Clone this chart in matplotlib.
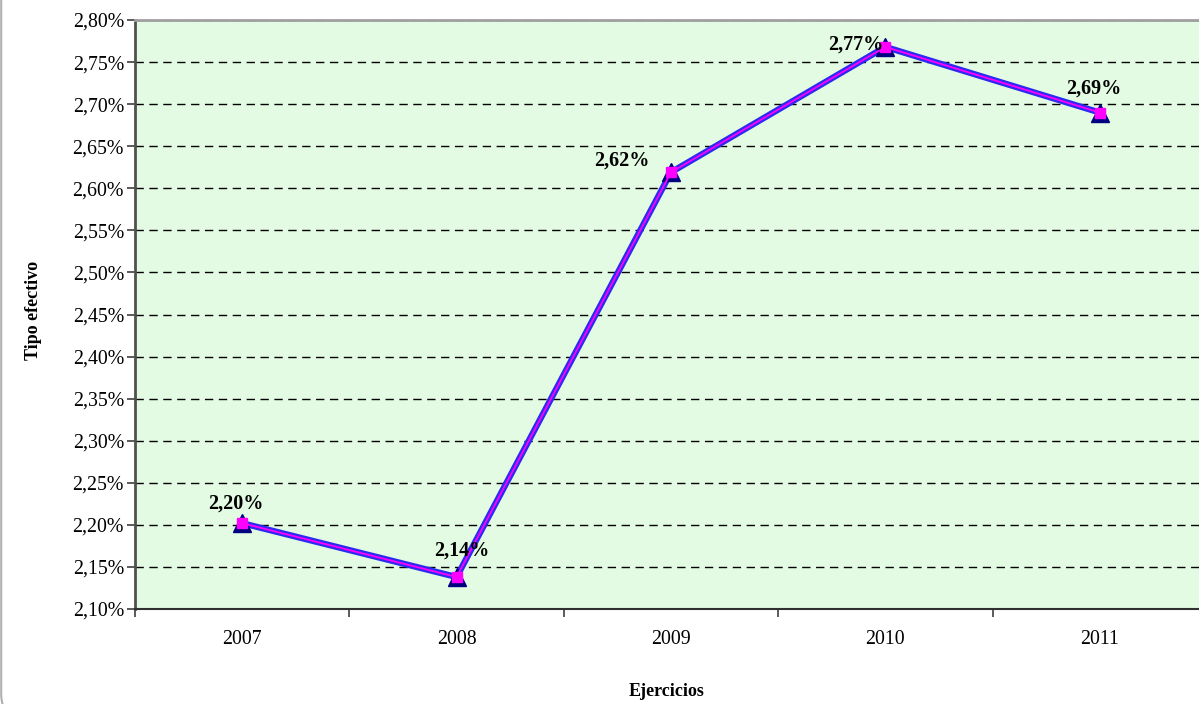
import numpy as np
import matplotlib
matplotlib.use('Agg')
import matplotlib.pyplot as plt
from matplotlib.patches import FancyBboxPatch

# data
years = ['2007', '2008', '2009', '2010', '2011']
tipo = [2.202, 2.138, 2.619, 2.768, 2.690]
yticks = np.arange(2.10, 2.801, 0.05)

# label offsets (pixels) for the data labels
offs = [(-6, 20), (5, 26), (-49, 12), (-30, 2), (-6, 24)]

plt.rcParams['font.family'] = ['Liberation Serif', 'DejaVu Serif']

fig = plt.figure(figsize=(11.99, 7.04), dpi=100)
ax = fig.add_axes([135 / 1199, 1 - 609 / 704, (1207 - 135) / 1199, 589 / 704])

# outer rounded frame (only left edge and bottom-left corner show)
frame = FancyBboxPatch((0.001, -0.02), 1.2, 1.2, boxstyle='round,pad=0,rounding_size=0.02',
                       transform=fig.transFigure, fill=False, ec='#b0b0b0', lw=1.5,
                       clip_on=False, mutation_aspect=1199 / 704)
fig.patches.append(frame)

ax.set_facecolor('#e2fbe2')
x = np.arange(len(years))
ax.plot(x, tipo, color='#2a2af0', lw=4.5, marker='^', ms=13, mfc='#000080', mec='#000080',
        zorder=3, clip_on=False)
ax.plot(x, tipo, color='#ff00ff', lw=1.3, marker='s', ms=7, mfc='#ff00ff', mec='#ff00ff',
        zorder=4, clip_on=False)

for xi, v, (dx, dy) in zip(x, tipo, offs):
    ax.annotate(('%.2f%%' % v).replace('.', ','), (xi, v), xytext=(dx * 0.72, dy * 0.72),
                textcoords='offset points', ha='center', va='center',
                fontsize=14.5, fontweight='bold', zorder=5)

ax.set_xlim(-0.5, len(years) - 0.5)
ax.set_ylim(2.10, 2.80)
ax.set_yticks(yticks)
ax.set_yticklabels([('%.2f%%' % t).replace('.', ',') for t in yticks], fontsize=14.3)
ax.yaxis.grid(True, ls=(0, (6, 4)), color='black', lw=1)
ax.set_axisbelow(True)

ax.set_xticks(x)
ax.set_xticklabels(years, fontsize=14.3)
ax.set_xticks(np.arange(-0.5, len(years)), minor=True)
ax.tick_params(axis='x', which='major', length=0, pad=15)
ax.tick_params(axis='x', which='minor', length=6, width=1.2, color='#404040')
ax.tick_params(axis='y', length=6, width=1.2, color='#404040', pad=2)

ax.spines['left'].set_color('#505050')
ax.spines['left'].set_linewidth(2)
ax.spines['top'].set_color('#a0a0a0')
ax.spines['top'].set_linewidth(2)
ax.spines['bottom'].set_color('#303030')
ax.spines['bottom'].set_linewidth(1.5)
ax.spines['right'].set_visible(False)

fig.text(667 / 1199, 1 - 692 / 704, 'Ejercicios', ha='center', va='center',
         fontsize=13, fontweight='bold')
fig.text(33 / 1199, 1 - 310 / 704, 'Tipo efectivo', ha='center', va='center',
         rotation=90, fontsize=13, fontweight='bold')

fig.savefig('out.png', dpi=100)
